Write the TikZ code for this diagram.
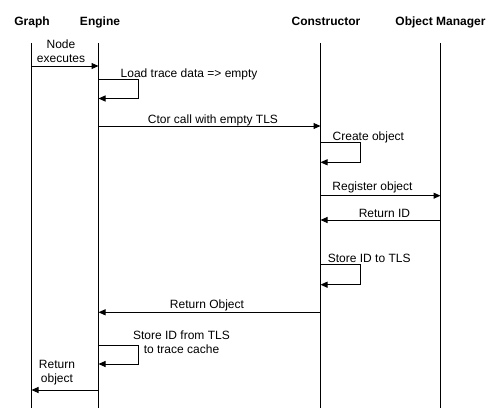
\documentclass[tikz,border=0pt]{standalone}
\usepackage{fontspec}
\setmainfont{Liberation Sans}
\usetikzlibrary{arrows.meta}
\tikzset{
  actor/.style={font=\fontsize{12}{14}\selectfont\bfseries, inner sep=0pt, anchor=base},
  lifeline/.style={line width=1pt},
  msg/.style={line width=1pt, -{Triangle[length=7pt,width=6pt]}},
  lbl/.style={inner sep=0pt, align=center},
}

\begin{document}
\begin{tikzpicture}[x=1pt, y=-1pt, font=\fontsize{12}{14}\selectfont]
  \useasboundingbox (0,0) rectangle (501,418);
  % participants
  \node[actor] (graph) at (32,25) {Graph};
  \node[actor] (engine) at (100,25) {Engine};
  \node[actor] (ctor) at (326,25) {Constructor};
  \node[actor] (objmgr) at (440.5,25) {Object Manager};
  \foreach \name/\x in {gr/31.5, en/98.5, ct/320.5, om/440.5}{
    \coordinate (\name-top) at (\x,43);
    \coordinate (\name-bot) at (\x,408);
    \draw[lifeline] (\name-top) -- (\name-bot);
  }
  % messages
  \coordinate (exec-s) at (31.5,66);  \coordinate (exec-e) at (98.5,66);
  \draw[msg] (exec-s) -- (exec-e);
  \node[lbl] (exec-l) at (61,51.1) {Node\\executes};

  \coordinate (load-s) at (98.5,79);  \coordinate (load-e) at (98.5,98.5);
  \draw[msg] (load-s) -- ++(39.5,0) |- (load-e);
  \node[lbl, anchor=base west] (load-l) at (120.5,77) {Load trace data => empty};

  \coordinate (call-s) at (98.5,126);  \coordinate (call-e) at (320.5,126);
  \draw[msg] (call-s) -- (call-e);
  \node[lbl, anchor=base] (call-l) at (213,123) {Ctor call with empty TLS};

  \coordinate (make-s) at (320.5,142.3);  \coordinate (make-e) at (320.5,162.3);
  \draw[msg] (make-s) -- ++(39.5,0) |- (make-e);
  \node[lbl, anchor=base west] (make-l) at (332.5,140) {Create object};

  \coordinate (reg-s) at (320.5,195.7);  \coordinate (reg-e) at (440.5,195.7);
  \draw[msg] (reg-s) -- (reg-e);
  \node[lbl, anchor=base] (reg-l) at (372.5,190.5) {Register object};

  \coordinate (rid-s) at (440.5,220);  \coordinate (rid-e) at (320.5,220);
  \draw[msg] (rid-s) -- (rid-e);
  \node[lbl, anchor=base] (rid-l) at (384.5,217) {Return ID};

  \coordinate (tls-s) at (320.5,264.7);  \coordinate (tls-e) at (320.5,284.7);
  \draw[msg] (tls-s) -- ++(40,0) |- (tls-e);
  \node[lbl, anchor=base west] (tls-l) at (327.7,262.5) {Store ID to TLS};

  \coordinate (robj-s) at (320.5,312.3);  \coordinate (robj-e) at (98.5,312.3);
  \draw[msg] (robj-s) -- (robj-e);
  \node[lbl, anchor=base] (robj-l) at (207,308.5) {Return Object};

  \coordinate (cache-s) at (98.5,345);  \coordinate (cache-e) at (98.5,364);
  \draw[msg] (cache-s) -- ++(39.5,0) |- (cache-e);
  \node[lbl] (cache-l) at (181.5,342.3) {Store ID from TLS\\to trace cache};

  \coordinate (ret-s) at (98.5,390);  \coordinate (ret-e) at (31.5,390);
  \draw[msg] (ret-s) -- (ret-e);
  \node[lbl] (ret-l) at (57,372.3) {Return\\object};
\end{tikzpicture}
\end{document}
